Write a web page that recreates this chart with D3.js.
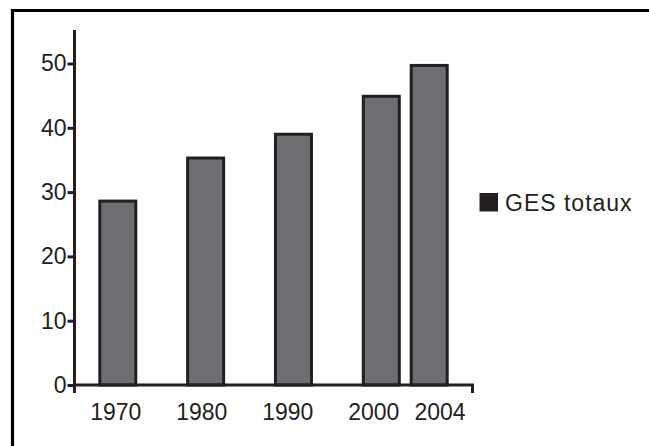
<!DOCTYPE html>
<html>
<head>
<meta charset="utf-8">
<script src="https://cdn.jsdelivr.net/npm/d3@7/dist/d3.min.js"></script>
<style>
  html, body { margin: 0; padding: 0; background: #fff; }
  svg { display: block; }
  text { font-family: "Liberation Sans", Arial, Helvetica, sans-serif; fill: #231f20; }
</style>
</head>
<body>
<svg id="chart" width="649" height="446"></svg>
<script>
// ---- data ----
const years = [1970, 1980, 1990, 2000, 2004];
const yearLabels = ["1970", "1980", "1990", "2000", "2004"];
const gesTotaux = [28.6, 35.3, 39.0, 44.9, 49.7];
const yTicks = [0, 10, 20, 30, 40, 50];
const seriesName = "GES totaux";

// ---- layout ----
const W = 649, H = 446;
const axisX = 74.5, baseY = 385, axisTopVal = 55.2, axisRight = 472.5;
const ink = "#231f20", barFill = "#6d6e71";

const svg = d3.select("#chart");

// frame (top and left edges visible)
svg.append("path")
  .attr("d", `M12.5,${H} L12.5,10.5 L${W},10.5`)
  .attr("fill", "none").attr("stroke", "#000").attr("stroke-width", 3.2);

const y = d3.scaleLinear().domain([0, 50]).range([baseY, 63.5]);
// bar centres: uneven spacing (2004 placed closer to 2000)
const x = d3.scaleLinear().domain([1970, 2000, 2004]).range([117.8, 381.3, 429.2]);
const xLab = d3.scaleLinear().domain([1970, 2000, 2004]).range([115.8, 373.8, 440]);
const barW = 36;

// bars
svg.append("g").selectAll("rect").data(years).join("rect")
  .attr("x", d => x(d) - barW / 2)
  .attr("y", (d, i) => y(gesTotaux[i]))
  .attr("width", barW)
  .attr("height", (d, i) => y(0) - y(gesTotaux[i]))
  .attr("fill", barFill)
  .attr("stroke", ink)
  .attr("stroke-width", 3);

// y axis
const yAxis = d3.axisLeft(y).tickValues(yTicks).tickSize(7).tickPadding(1).tickFormat(d3.format("d"));
const gy = svg.append("g").attr("transform", `translate(${axisX},0)`).call(yAxis);
gy.select(".domain").remove();
gy.selectAll(".tick line").attr("stroke", ink).attr("stroke-width", 3);
gy.selectAll(".tick text").attr("font-size", 23).attr("fill", ink)
  .attr("font-family", '"Liberation Sans", Arial, sans-serif');

// axis lines
svg.append("line").attr("x1", axisX).attr("x2", axisX)
  .attr("y1", y(axisTopVal)).attr("y2", baseY + 8)
  .attr("stroke", ink).attr("stroke-width", 3);
svg.append("path")
  .attr("d", `M${axisX},${baseY} L${axisRight},${baseY} L${axisRight},${baseY + 8}`)
  .attr("fill", "none").attr("stroke", ink).attr("stroke-width", 3);

// x labels
svg.append("g").selectAll("text").data(years).join("text")
  .attr("x", d => xLab(d))
  .attr("y", 420)
  .attr("text-anchor", "middle")
  .attr("font-size", 23)
  .text((d, i) => yearLabels[i]);

// legend
const lg = svg.append("g").attr("transform", "translate(479.5,193)");
lg.append("rect").attr("width", 18.5).attr("height", 18.5).attr("fill", ink);
lg.append("text").attr("x", 25.5).attr("y", 17.8)
  .attr("font-size", 23).attr("letter-spacing", 1)
  .text(seriesName);
</script>
</body>
</html>
